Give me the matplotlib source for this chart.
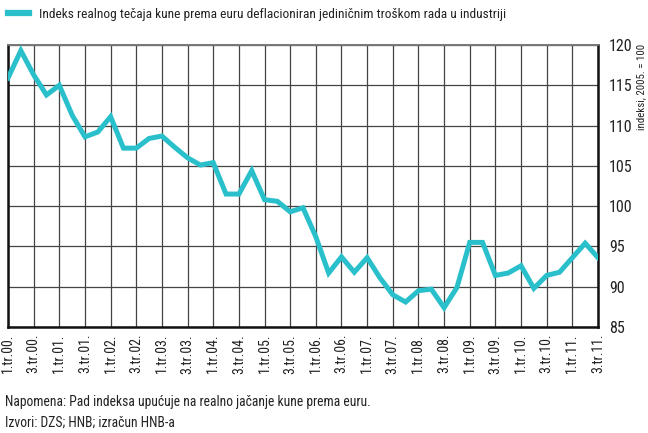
import matplotlib
matplotlib.use("Agg")
import matplotlib.pyplot as plt
from matplotlib.lines import Line2D

plt.rcParams['font.family'] = ['Roboto Condensed', 'Liberation Sans', 'DejaVu Sans']

# quarterly index, 1.tr.00. - 3.tr.11.
values = [115.9, 119.3, 116.3, 113.8, 115.0, 111.3, 108.6, 109.2, 111.1, 107.2,
          107.2, 108.4, 108.7, 107.3, 106.0, 105.1, 105.4, 101.5, 101.5, 104.4,
          100.8, 100.6, 99.3, 99.8, 96.2, 91.7, 93.7, 91.8, 93.6, 91.1,
          89.0, 88.1, 89.5, 89.7, 87.4, 89.9, 95.5, 95.5, 91.4, 91.7,
          92.6, 89.8, 91.4, 91.8, 93.6, 95.4, 93.6]
years = ["00", "01", "02", "03", "04", "05", "06", "07", "08", "09", "10", "11"]
tick_labels = [f"{q}.tr.{y}." for y in years for q in (1, 3)]
y_ticks = [85, 90, 95, 100, 105, 110, 115, 120]

line_color = "#29c0cc"

fig = plt.figure(figsize=(6.48, 4.33), dpi=100)
ax = fig.add_axes([8 / 648, 1 - 327 / 433, 590 / 648, 282 / 433])

x = list(range(len(values)))
ax.plot(x, values, color=line_color, lw=3.6, solid_joinstyle="miter", zorder=3)

ax.set_xlim(0, len(values) - 1)
ax.set_ylim(85, 120)
ax.set_xticks(x[::2])
ax.set_xticklabels(tick_labels, rotation=90, fontsize=10, color="#222222")
ax.set_yticks(y_ticks)
ax.set_yticklabels([str(v) for v in y_ticks], fontsize=11.5, color="#222222")
ax.yaxis.tick_right()
ax.tick_params(axis="both", length=0, pad=5)
ax.tick_params(axis="y", pad=8)

ax.grid(True, color="#444444", lw=0.9)
for name, sp in ax.spines.items():
    sp.set_color("#111111")
    sp.set_linewidth(1.8)
ax.spines["top"].set_color("#777777")
ax.spines["top"].set_linewidth(1.4)

fig.text(0.998, 1 - 44 / 433, "indeksi, 2005. = 100", rotation=90, ha="right", va="top",
         fontsize=7.8, color="#222222")

# legend
leg = [Line2D([0], [0], color=line_color, lw=4.5)]
fig.legend(leg, ["Indeks realnog tečaja kune prema euru deflacioniran jediničnim troškom rada u industriji"],
           loc="upper left", bbox_to_anchor=(-0.006, 1.01), frameon=False, fontsize=9.6,
           handlelength=1.6, handletextpad=0.7, labelcolor="#222222")

fig.text(5 / 648, 1 - 402 / 433, "Napomena: Pad indeksa upućuje na realno jačanje kune prema euru.",
         fontsize=9.8, va="center", color="#222222")
fig.text(5 / 648, 1 - 423 / 433, "Izvori: DZS; HNB; izračun HNB-a",
         fontsize=9.8, va="center", color="#222222")

fig.savefig("out.png", dpi=100)
